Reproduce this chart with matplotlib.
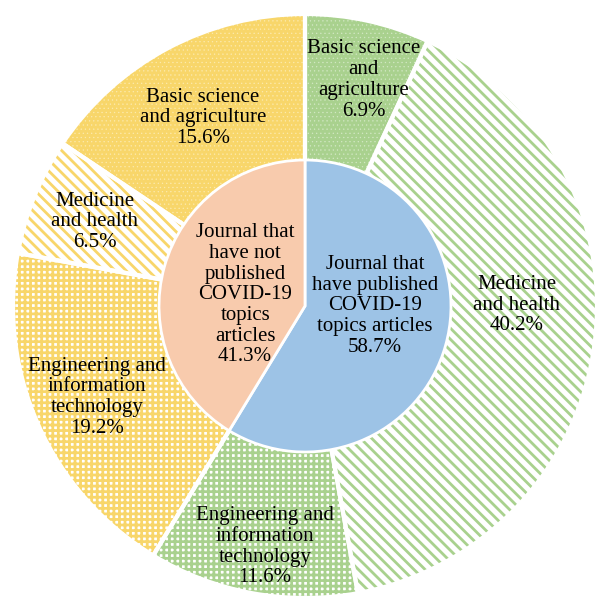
import matplotlib.pyplot as plt
import matplotlib as mpl

# inner ring: journals with / without COVID-19 articles
inner_labels = ["Journal that\nhave published\nCOVID-19\ntopics articles",
                "Journal that\nhave not\npublished\nCOVID-19\ntopics\narticles"]
inner_values = [58.7, 41.3]

# outer ring: subject split (clockwise from top)
outer_labels = ["Basic science\nand\nagriculture", "Medicine\nand health",
                "Engineering and\ninformation\ntechnology",
                "Engineering and\ninformation\ntechnology", "Medicine\nand health",
                "Basic science\nand agriculture"]
outer_values = [6.9, 40.2, 11.6, 19.2, 6.5, 15.6]
outer_hatches = ["dots", "stripes", "grid", "grid", "stripes", "dots"]

GREEN = "#A9D18E"
YELLOW = "#F8D66A"
outer_colors = [GREEN, GREEN, GREEN, YELLOW, YELLOW, YELLOW]
dot_colors = {GREEN: "#D2E8C4", YELLOW: "#FCEAAE"}
inner_colors = ["#9DC3E6", "#F8CBAD"]

# label anchor points (data units, outer radius = 1)
outer_label_pos = [(0.20, 0.774), (0.726, 0.003), (-0.137, -0.825),
                   (-0.712, -0.312), (-0.72, 0.288), (-0.349, 0.644)]
inner_label_pos = [(0.24, 0.0), (-0.205, 0.038)]

plt.rcParams['font.family'] = ['Liberation Serif', 'DejaVu Serif']

fig = plt.figure(figsize=(6.01, 6.03), dpi=100)
ax = fig.add_axes([0, 0, 1, 1])
ax.axis('off')

mpl.rcParams['hatch.linewidth'] = 2.0
wedges, _ = ax.pie(outer_values, radius=1.0, startangle=90, counterclock=False,
                   wedgeprops=dict(linewidth=0))
for w, col, h in zip(wedges, outer_colors, outer_hatches):
    if h == "dots":
        w.set_facecolor(col)
        w.set_edgecolor(dot_colors[col])
        w.set_hatch("....")
        if hasattr(w, "set_hatch_linewidth"):
            w.set_hatch_linewidth(0.4)
    elif h == "stripes":
        w.set_facecolor("white")
        w.set_edgecolor(col)
        w.set_hatch("\\\\\\")
    else:
        w.set_facecolor("white")
        w.set_edgecolor(col)
        w.set_hatch("+++")
    w.set_linewidth(0)

# white borders between outer wedges
ax.pie(outer_values, radius=1.0, startangle=90, counterclock=False,
       wedgeprops=dict(facecolor='none', edgecolor='white', linewidth=3))

# inner pie
ax.pie(inner_values, radius=0.5, startangle=90, counterclock=False,
       colors=inner_colors, wedgeprops=dict(edgecolor='white', linewidth=2))

ax.set_xlim(-305 / 292, 296 / 292)
ax.set_ylim(-297 / 292, 306 / 292)

for lab, val, (x, y) in zip(outer_labels, outer_values, outer_label_pos):
    ax.text(x, y, f"{lab}\n{val:.1f}%", ha='center', va='center',
            fontsize=15, linespacing=1.12, color='black')
for lab, val, (x, y) in zip(inner_labels, inner_values, inner_label_pos):
    ax.text(x, y, f"{lab}\n{val:.1f}%", ha='center', va='center',
            fontsize=15, linespacing=1.12, color='black')

fig.savefig('out.png', dpi=100)
